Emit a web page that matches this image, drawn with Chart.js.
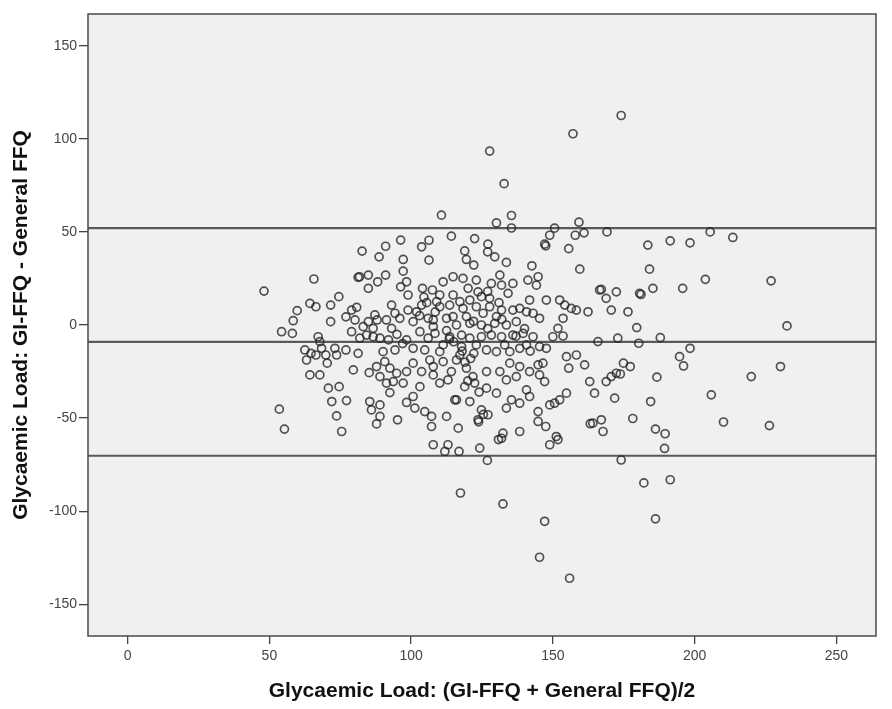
<!DOCTYPE html>
<html>
<head>
<meta charset="utf-8">
<script src="https://cdn.jsdelivr.net/npm/chart.js@4"></script>
<style>
  html, body { margin: 0; padding: 0; background: #fff; }
  canvas { display: block; }
</style>
</head>
<body>
<canvas id="chart" width="892" height="709"></canvas>
<script>
// mean of the two FFQs (x) and their difference (y), one pair per subject
const glPairs = [
  [48.1,18.2],
  [174.1,112.5],[157.1,102.7],[127.7,93.4],[132.8,75.9],[110.7,59],[135.4,58.8],[130.1,54.8],[135.4,52.1],
  [159.2,55.2],[150.6,52],[148.9,48.2],[161,49.5],[157.9,48.2],[169.1,50],[114.2,47.7],[147.1,43.4],[147.5,42.5],
  [155.6,41],[122.4,46.4],[127.1,43.4],[127,39.3],[129.5,36.6],[133.6,33.6],[106.3,45.5],[103.7,42],[106.3,34.8],
  [118.9,39.8],[119.5,35.2],[122.1,32.2],[159.5,30],[142.6,31.8],[141.2,24.1],[144.8,25.9],[144.2,21.4],
  [65.7,24.7],[82.7,39.7],[88.7,36.6],[91,42.3],[96.3,45.6],[97.2,35.2],[97.2,28.9],[91,26.8],[88.2,23.2],
  [84.9,26.8],[81.3,25.6],[81.8,25.9],[84.9,19.7],[98.4,23.2],[96.3,20.5],[98.9,16.1],[104,19.7],[107.5,18.8],
  [74.5,15.2],[71.6,10.7],[64.3,11.6],[66.4,9.8],[59.8,7.7],[58.4,2.3],[54.3,-3.6],[58.1,-4.5],[71.6,1.8],
  [77,4.4],[79,8],[80.8,9.5],[80.2,2.7],[79,-3.6],[83.1,-0.9],[84.9,1.8],[87.2,5.4],[88,2.7],[91.3,2.7],
  [94.3,6.3],[93.1,10.7],[96,3.6],[98.9,8],[101.9,7.1],[103.7,10.7],[106,3.6],[107.8,2.7],[100.7,1.8],
  [93.1,-1.8],[86.6,-1.8],[84.3,-5.4],[86.6,-6.3],[81.9,-7.1],[89,-7.1],[67.2,-6.3],[67.8,-8.9],[62.5,-13.4],
  [64.7,-15.2],[68.4,-12.5],[69.9,-16.1],[63.1,-18.8],[66.4,-16.1],[73.1,-12.5],[73.7,-16.1],[77,-13.4],
  [81.3,-15.2],[70.4,-20.5],[64.3,-26.8],[67.8,-26.8],[79.6,-24.1],[70.8,-33.9],[74.6,-33.1],[72,-41.1],
  [77.2,-40.6],[73.7,-48.8],[53.5,-45.2],[55.3,-55.9],[75.5,-57.2],[85.2,-25.6],[87.8,-22.3],[89,-27.7],
  [90.7,-19.7],[92.5,-23.2],[94.9,-25.9],[91.3,-31.2],[93.7,-30.4],[97.2,-31.2],[92.5,-36.3],[98.4,-25],
  [100.7,-20.5],[103.7,-25],[103.1,-33.1],[100.7,-38.4],[98.4,-41.6],[101.3,-44.6],[104.8,-46.5],[107.2,-49.1],
  [107.2,-54.5],[85.4,-41.1],[89,-42.9],[86,-45.6],[89,-49.1],[87.8,-53.1],[95.2,-50.9],[104.8,-13.4],
  [106.6,-18.8],[100.7,-12.5],[94.3,-13.4],[90.1,-14.3],[106,-7.1],[98.4,-8],[103.1,-3.6],[108.4,-4.5],
  [166.5,18.8],[168.8,14.3],[172.4,17.8],[170.6,8],[131.3,26.8],[128.3,22.3],[131.9,21.4],[135.9,22.3],
  [134.2,17],[123,24.1],[118.3,25],[114.8,25.9],[111.3,23.2],[120.1,19.7],[123.6,17.8],[124.8,15.2],
  [127.7,14.3],[114.8,16.1],[110.1,16.1],[117.2,12.5],[120.7,13.4],[113.6,10.7],[110.1,9.8],[118.3,8.9],
  [123,9.8],[127.7,9.8],[131.9,8],[135.9,8],[138.3,8.9],[140.7,7.1],[143,6.3],[145.3,3.6],[141.8,13.4],
  [147.7,13.4],[152.4,13.4],[154.2,10.7],[156.5,8.9],[158.3,8],[162.4,7.1],[153.6,3.6],[151.8,-1.8],
  [150,-6.3],[153.6,-5.9],[165.9,-8.9],[172.9,-7.1],[147.7,-12.5],[145.3,-11.6],[140.7,-10.7],[154.8,-17],
  [158.3,-16.1],[155.6,-23.2],[161.2,-21.4],[144.8,-21.4],[146.5,-20.5],[145.3,-26.8],[147.1,-30.4],
  [163,-30.4],[164.7,-36.6],[168.8,-30.4],[170.6,-27.7],[172.4,-25.9],[171.8,-39.3],[154.8,-36.6],
  [152.4,-40.2],[150.6,-42],[144.8,-46.5],[144.8,-51.8],[147.5,-54.5],[164.1,-52.7],[167.1,-50.9],
  [167.7,-57.2],[138.3,-57.2],[132.4,-58.1],[131.9,-60.8],[151.2,-59.9],[116.6,-55.4],[112.5,-49.1],
  [124.8,-45.6],[127.1,-48.2],[123.6,-50.9],[133.6,-44.6],[138.3,-42],[135.4,-40.2],[140.7,-34.8],
  [141.8,-38.4],[130.1,-36.6],[126.6,-33.9],[122.4,-31.2],[118.9,-33.1],[116,-40.2],[120.7,-41.1],
  [110.1,-31.2],[113,-29.5],[114.2,-25],[133.6,-29.5],[137.1,-27.7],[131.3,-25],[126.6,-25],[121.8,-27.7],
  [119.5,-23.2],[134.8,-20.5],[138.3,-22.3],[141.8,-25],[116,-18.8],[111.3,-19.7],[110.1,-14.3],[117.2,-16.1],
  [122.1,-15.2],[126.6,-13.4],[130.1,-14.3],[134.8,-14.3],[138.3,-12.5],[113.6,-6.3],[117.8,-5.4],[120.7,-7.1],
  [124.8,-6.3],[128.3,-5.4],[131.9,-6.3],[135.9,-5.4],[139.5,-4.5],[143,-6.3],[116,0],[120.7,0.9],[124.8,0],
  [129.5,0.9],[133.6,0],[137.1,1.8],[112.5,3.6],[107.8,-0.9],[125.4,6.3],[114.8,4.5],[119.5,4.5],[130.1,4.5],
  [111.3,-10.7],[117.8,-11.6],[123,-10.7],[133,-10.7],[107.8,-22.3],[107.8,-26.8],
  [104.5,15],[105.5,12],[103,5],[108.5,7],[109,12.5],[113.5,-7.5],[115,-9],[112.5,-3],[119,-20],[121,-18],
  [118,-14],[120,-30],[124,-36],[125.5,-48],[137,-6],[140,-2],[142,-14],[122,2],[127,-2],[132,3],
  [95,-5],[97,-10],[92,-8],[127,18],[131,12],
  [183.5,42.9],[191.4,45.2],[198.4,44.1],[205.5,50],[213.5,47],[184.1,30],[185.3,19.7],[195.8,19.7],
  [203.8,24.5],[227,23.7],[167.1,19.1],[180.6,17],[181.1,16.4],[176.5,7.1],[179.6,-1.4],[232.6,-0.5],
  [180.3,-9.8],[187.9,-6.8],[198.4,-12.5],[194.7,-17],[196.1,-22],[174.9,-20.5],[177.3,-22.3],[173.8,-26.3],
  [186.7,-28],[220,-27.7],[230.3,-22.3],[184.5,-41.1],[205.9,-37.5],[178.2,-50.2],[186.2,-55.9],[189.6,-58.4],
  [210.2,-52.1],[226.4,-54],[189.4,-66.3],[174.1,-72.5],
  [117.4,-90.2],[132.4,-96.1],[147.1,-105.4],[145.3,-124.7],[155.9,-136],[182.1,-84.8],[191.4,-83.1],
  [186.2,-104.1],[126.9,-72.7],[116.9,-67.9],[111.9,-67.9],[113,-64.3],[107.8,-64.3],[124.2,-66.1],
  [130.8,-61.5],[148.9,-64.3],[151.8,-61.5],[163.2,-53],[115.4,-40.2],[123.8,-52],[148.9,-42.9]
];

// upper limit of agreement, mean difference, lower limit
const limitLines = [52.0, -9.1, -70.2];

const xRange = [-14, 264];
const yRange = [-167, 167];
const xTicks = [0, 50, 100, 150, 200, 250];
const yTicks = [-150, -100, -50, 0, 50, 100, 150];

const xTitle = 'Glycaemic Load: (GI-FFQ + General FFQ)/2';
const yTitle = 'Glycaemic Load: GI-FFQ - General FFQ';

const plotFrame = {
  id: 'plotFrame',
  beforeDraw(chart) {
    const { ctx, chartArea: a } = chart;
    ctx.save();
    ctx.fillStyle = '#f0f0f0';
    ctx.fillRect(a.left, a.top, a.right - a.left, a.bottom - a.top);
    ctx.restore();
  },
  afterDraw(chart) {
    const { ctx, chartArea: a } = chart;
    ctx.save();
    ctx.strokeStyle = '#4a4a4a';
    ctx.lineWidth = 1.5;
    ctx.strokeRect(a.left, a.top, a.right - a.left, a.bottom - a.top);
    ctx.restore();
  }
};

const lineSets = limitLines.map(v => ({
  type: 'line',
  data: [{ x: xRange[0], y: v }, { x: xRange[1], y: v }],
  borderColor: '#5a5a5a',
  borderWidth: 2.2,
  pointRadius: 0,
  fill: false,
  order: 2
}));

const tickFont = { family: 'Liberation Sans, Arial, sans-serif', size: 14 };
const titleFont = { family: 'Liberation Sans, Arial, sans-serif', size: 21, weight: 'bold' };

new Chart(document.getElementById('chart'), {
  type: 'scatter',
  data: {
    datasets: [
      {
        data: glPairs.map(p => ({ x: p[0], y: p[1] })),
        pointRadius: 4,
        pointBorderWidth: 1.7,
        pointBorderColor: 'rgba(35,35,35,0.78)',
        pointBackgroundColor: 'rgba(0,0,0,0)',
        order: 1
      },
      ...lineSets
    ]
  },
  options: {
    responsive: false,
    animation: false,
    devicePixelRatio: 1,
    layout: { padding: { top: 14, right: 16, left: 0, bottom: 0 } },
    plugins: { legend: { display: false }, tooltip: { enabled: false } },
    scales: {
      x: {
        type: 'linear',
        min: xRange[0],
        max: xRange[1],
        afterBuildTicks: s => { s.ticks = xTicks.map(v => ({ value: v })); },
        afterFit: s => { s.height = 73; },
        border: { display: false },
        grid: { drawOnChartArea: false, drawTicks: true, tickLength: 8, color: '#444', lineWidth: 1.3 },
        ticks: { color: '#444', font: tickFont, padding: 4 },
        title: { display: true, text: xTitle, color: '#111', font: titleFont, padding: { top: 0, bottom: 5 } }
      },
      y: {
        type: 'linear',
        min: yRange[0],
        max: yRange[1],
        afterBuildTicks: s => { s.ticks = yTicks.map(v => ({ value: v })); },
        afterFit: s => { s.width = 88; },
        border: { display: false },
        grid: { drawOnChartArea: false, drawTicks: true, tickLength: 9, color: '#444', lineWidth: 1.3 },
        ticks: { color: '#444', font: tickFont, padding: 2 },
        title: { display: true, text: yTitle, color: '#111', font: titleFont, padding: { top: 9, bottom: 0 } }
      }
    }
  },
  plugins: [plotFrame]
});
</script>
</body>
</html>
